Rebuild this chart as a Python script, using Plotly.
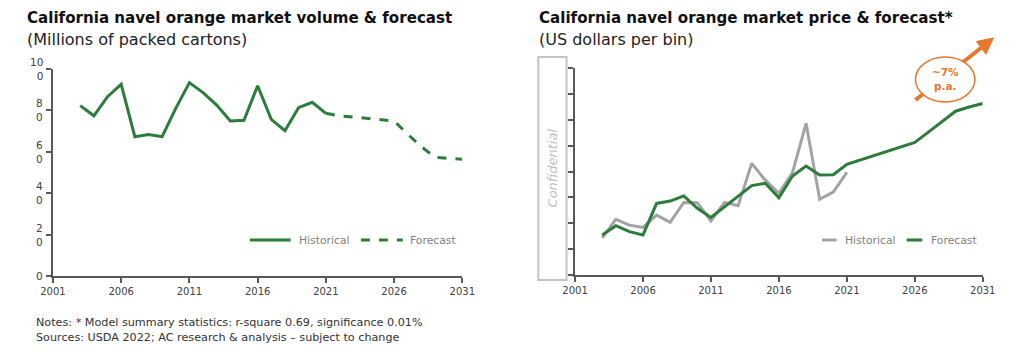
import plotly.graph_objects as go

W, H = 1024, 348
FONT = "DejaVu Sans"

# ---------------- data ----------------
vol_hist_years = list(range(2003, 2022))
vol_hist = [82.3, 77.4, 86.6, 92.6, 67.3, 68.3, 67.3, 81.0, 93.4, 88.6, 82.6,
            74.9, 75.2, 91.9, 75.7, 70.2, 81.3, 83.9, 78.6]
vol_fc_years = list(range(2021, 2032))
vol_fc = [78.6, 77.4, 76.8, 76.2, 75.6, 74.9, 68.5, 62.5, 57.3, 56.8, 56.4]

price_hist_years = list(range(2003, 2022))
price_hist = [1.44, 2.15, 1.93, 1.84, 2.32, 2.04, 2.81, 2.80, 2.09, 2.81, 2.68,
              4.32, 3.67, 3.16, 3.96, 5.87, 2.93, 3.21, 3.97]
price_model_years = list(range(2003, 2032))
price_model = [1.55, 1.91, 1.68, 1.55, 2.77, 2.86, 3.06, 2.58, 2.23, 2.64, 3.06,
               3.46, 3.55, 2.99, 3.83, 4.22, 3.87, 3.88, 4.28, 4.45, 4.62, 4.79,
               4.96, 5.13, 5.53, 5.94, 6.34, 6.50, 6.64]

x_ticks = [2001, 2006, 2011, 2016, 2021, 2026, 2031]
vol_ticks = [0, 20, 40, 60, 80, 100]
# tick labels as wrapped in the source image
vol_ticktext = ["0", "2<br>0", "4<br>0", "6<br>0", "8<br>0", "10<br>0"]
price_ticks = [0, 1, 2, 3, 4, 5, 6, 7, 8]

GREEN = "#2b7d3b"
GRAY = "#a3a3a3"
ORANGE = "#e8762c"
AXIS = "#595959"


def px(x):
    return x / W


def py(y):
    return 1 - y / H


fig = go.Figure()
fig.add_trace(go.Scatter(x=vol_hist_years, y=vol_hist, mode="lines",
                         line=dict(color=GREEN, width=3), xaxis="x", yaxis="y",
                         name="Historical", showlegend=False))
fig.add_trace(go.Scatter(x=vol_fc_years, y=vol_fc, mode="lines",
                         line=dict(color=GREEN, width=3, dash="dash"), xaxis="x", yaxis="y",
                         name="Forecast", showlegend=False))
fig.add_trace(go.Scatter(x=price_hist_years, y=price_hist, mode="lines",
                         line=dict(color=GRAY, width=3), xaxis="x2", yaxis="y2",
                         name="Historical", showlegend=False))
fig.add_trace(go.Scatter(x=price_model_years, y=price_model, mode="lines",
                         line=dict(color=GREEN, width=3), xaxis="x2", yaxis="y2",
                         name="Forecast", showlegend=False))

TICKFONT = dict(family=FONT, size=10, color="#404040")
axis_common = dict(showgrid=False, zeroline=False, showline=True, linecolor=AXIS,
                   linewidth=1.5, ticks="outside", ticklen=5, tickwidth=1.5,
                   tickcolor=AXIS, tickfont=TICKFONT)

fig.update_layout(
    width=W, height=H, margin=dict(l=0, r=0, t=0, b=0),
    paper_bgcolor="white", plot_bgcolor="white",
    xaxis=dict(domain=[px(41), px(461)], range=[2001, 2031], tickvals=x_ticks,
               anchor="y", **axis_common),
    yaxis=dict(domain=[py(276), py(69)], range=[0, 100], tickvals=vol_ticks,
               showticklabels=False, anchor="x", **axis_common),
    xaxis2=dict(domain=[px(576.7), px(995)], range=[2001, 2031], tickvals=x_ticks,
                anchor="y2", **axis_common),
    yaxis2=dict(domain=[py(275), py(68.3)], range=[0, 8], tickvals=price_ticks,
                showticklabels=False, anchor="x2", **axis_common),
)

shapes = []
annotations = []

# left y tick labels (wrapped, centred on the tick through the y scale)
for v, t in zip(vol_ticks, vol_ticktext):
    annotations.append(dict(x=px(32.5), y=v, xref="paper", yref="y", xanchor="right",
                            yanchor="middle", align="right", showarrow=False, text=t,
                            font=dict(family=FONT, size=10.5, color="#404040")))

# titles
for x0, title, sub in [(12, "California navel orange market volume &amp; forecast",
                        "(Millions of packed cartons)"),
                       (538, "California navel orange market price &amp; forecast*",
                        "(US dollars per bin)")]:
    annotations.append(dict(x=px(x0), y=py(18), xref="paper", yref="paper",
                            xanchor="left", yanchor="middle", showarrow=False,
                            text="<b>" + title + "</b>",
                            font=dict(family=FONT, size=15.1, color="#111111")))
    annotations.append(dict(x=px(x0), y=py(40), xref="paper", yref="paper",
                            xanchor="left", yanchor="middle", showarrow=False,
                            text=sub, font=dict(family=FONT, size=16, color="#222222")))

# notes
NOTEFONT = dict(family=FONT, size=11.2, color="#333333")
annotations.append(dict(x=px(22), y=py(322), xref="paper", yref="paper",
                        xanchor="left", yanchor="middle", showarrow=False,
                        text="Notes: * Model summary statistics: r-square 0.69, significance 0.01%",
                        font=NOTEFONT))
annotations.append(dict(x=px(22), y=py(337), xref="paper", yref="paper",
                        xanchor="left", yanchor="middle", showarrow=False,
                        text="Sources: USDA 2022; AC research &amp; analysis \u2013 subject to change",
                        font=NOTEFONT))

LEGFONT = dict(family=FONT, size=10.8, color="#7f7f7f")
# legends (left)
shapes.append(dict(type="line", xref="paper", yref="paper", x0=px(243), x1=px(285),
                   y0=py(240), y1=py(240), line=dict(color=GREEN, width=3)))
annotations.append(dict(x=px(291), y=py(240), xref="paper", yref="paper", xanchor="left",
                        yanchor="middle", showarrow=False, text="Historical", font=LEGFONT))
shapes.append(dict(type="line", xref="paper", yref="paper", x0=px(357), x1=px(400),
                   y0=py(240), y1=py(240), line=dict(color=GREEN, width=3, dash="dash")))
annotations.append(dict(x=px(405), y=py(240), xref="paper", yref="paper", xanchor="left",
                        yanchor="middle", showarrow=False, text="Forecast", font=LEGFONT))
# legends (right)
shapes.append(dict(type="line", xref="paper", yref="paper", x0=px(830), x1=px(845),
                   y0=py(240), y1=py(240), line=dict(color=GRAY, width=3)))
annotations.append(dict(x=px(852), y=py(240), xref="paper", yref="paper", xanchor="left",
                        yanchor="middle", showarrow=False, text="Historical", font=LEGFONT))
shapes.append(dict(type="line", xref="paper", yref="paper", x0=px(917), x1=px(933),
                   y0=py(240), y1=py(240), line=dict(color=GREEN, width=3)))
annotations.append(dict(x=px(940), y=py(240), xref="paper", yref="paper", xanchor="left",
                        yanchor="middle", showarrow=False, text="Forecast", font=LEGFONT))

# confidential box
shapes.append(dict(type="rect", xref="paper", yref="paper", x0=px(539), x1=px(568),
                   y0=py(280), y1=py(57), line=dict(color="#c4c4c4", width=2),
                   fillcolor="white"))
annotations.append(dict(x=px(553.5), y=py(168), xref="paper", yref="paper",
                        xanchor="center", yanchor="middle", showarrow=False, textangle=-90,
                        text="<i>Confidential</i>",
                        font=dict(family=FONT, size=13, color="#c0c0c0")))

# growth arrow with ellipse
shapes.append(dict(type="line", xref="paper", yref="paper", x0=px(926), y0=py(100),
                   x1=px(993.4), y1=py(47.8), line=dict(color=ORANGE, width=4)))
tri = "M {:.5f},{:.5f} L {:.5f},{:.5f} L {:.5f},{:.5f} Z".format(
    px(1006), py(38), px(998.3), py(54.1), px(988.5), py(41.5))
shapes.append(dict(type="path", xref="paper", yref="paper", path=tri,
                   fillcolor=ORANGE, line=dict(color=ORANGE, width=1)))
shapes.append(dict(type="circle", xref="paper", yref="paper", x0=px(926), x1=px(987),
                   y0=py(102), y1=py(57), fillcolor="white",
                   line=dict(color=ORANGE, width=1.5)))
annotations.append(dict(x=px(957), y=py(79), xref="paper", yref="paper",
                        xanchor="center", yanchor="middle", showarrow=False,
                        text="<b>~7%<br>p.a.</b>",
                        font=dict(family=FONT, size=10.5, color=ORANGE)))

fig.update_layout(shapes=shapes, annotations=annotations)
fig.write_html("out.html")
